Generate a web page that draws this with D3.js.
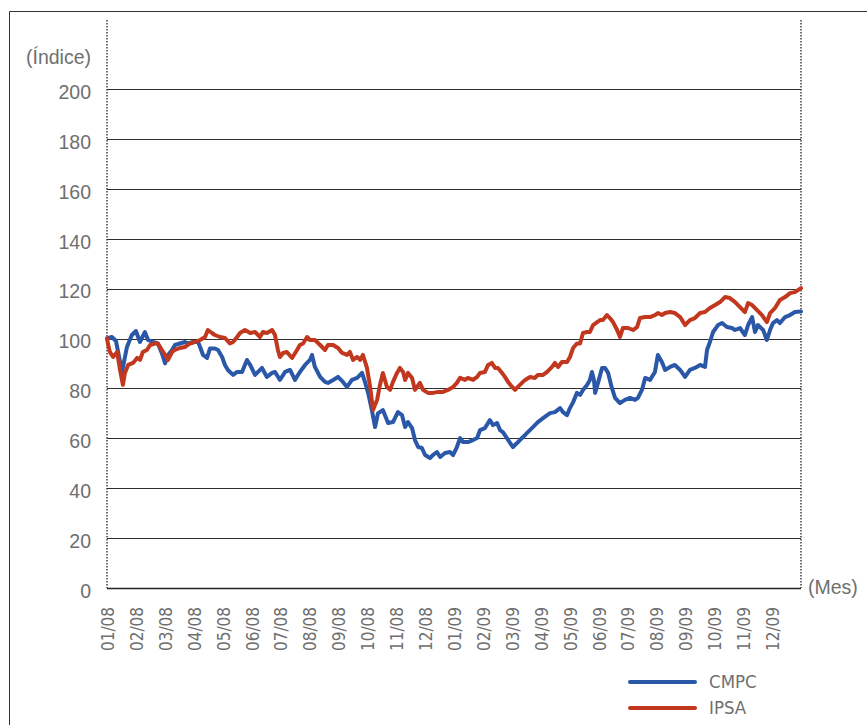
<!DOCTYPE html>
<html>
<head>
<meta charset="utf-8">
<script src="https://cdn.jsdelivr.net/npm/d3@7"></script>
<style>
  body { margin: 0; background: #fff; }
  svg { display: block; }
</style>
</head>
<body>
<div id="chart"></div>
<script>
// month tick labels (one per month, Jan 2008 .. Dec 2009)
const months = ["01/08","02/08","03/08","04/08","05/08","06/08","07/08","08/08","09/08","10/08","11/08","12/08",
                "01/09","02/09","03/09","04/09","05/09","06/09","07/09","08/09","09/09","10/09","11/09","12/09"];
const yTicks = [0, 20, 40, 60, 80, 100, 120, 140, 160, 180, 200];

// time in months since 01/08, index value (base 100)
const cmpcT = [0,0.17,0.31,0.52,0.69,0.86,1.00,1.14,1.31,1.42,1.59,1.76,1.90,2.01,2.11,2.25,2.35,2.52,2.70,2.80,2.97,
  3.15,3.22,3.32,3.46,3.56,3.73,3.84,3.98,4.08,4.18,4.36,4.50,4.67,4.84,4.95,5.12,5.36,5.53,5.71,5.81,5.98,6.16,6.33,
  6.50,6.67,6.85,7.02,7.09,7.19,7.37,7.54,7.64,7.82,7.99,8.16,8.30,8.47,8.65,8.82,8.92,9.03,9.16,9.27,9.37,9.54,9.72,
  9.89,10.06,10.20,10.31,10.41,10.55,10.65,10.76,10.89,11.00,11.17,11.27,11.41,11.52,11.69,11.86,11.97,12.10,12.21,
  12.31,12.48,12.66,12.80,12.90,13.07,13.24,13.35,13.49,13.59,13.69,13.83,13.94,14.04,14.18,14.28,14.46,14.52,14.73,
  14.90,15.08,15.32,15.49,15.67,15.77,15.91,16.01,16.12,16.25,16.36,16.46,16.60,16.70,16.77,16.84,16.88,16.98,17.12,
  17.22,17.33,17.46,17.57,17.74,17.91,18.09,18.26,18.36,18.50,18.61,18.78,18.95,19.05,19.19,19.30,19.47,19.64,19.82,
  19.99,20.16,20.33,20.51,20.68,20.75,20.85,20.96,21.13,21.27,21.44,21.61,21.72,21.89,22.06,22.17,22.31,22.41,22.51,
  22.69,22.82,22.93,23.03,23.17,23.27,23.45,23.62,23.79,24.00];
const cmpcV = [100,100.6,99,86.6,96.6,101.4,103,98.6,102.6,99.4,98.6,98,94,90,93.4,95.4,97.4,98,98.6,98,98.6,
  98.6,96.6,93.4,92.2,96,96,95.4,92.6,89.4,87.4,85.4,86.6,86.6,91.4,89.4,85.4,88.2,84.6,86.2,86.6,83.4,86.6,87.4,
  83.4,86.6,89.4,91.4,93.4,88.6,84.6,82.6,82.2,83.4,84.6,82.6,80.6,83.4,84.2,86.2,82.6,78.2,71.3,64.5,70,71.3,66.1,
  66.5,70.5,69.3,64.5,66.5,64.1,59.3,56.5,56.1,53.3,52.1,53.3,54.5,52.5,54.1,54.5,53.3,56.5,60.1,
  58.5,58.5,59.3,60.1,63.3,64.1,67.3,65.3,66.1,63.3,62.5,60.1,58.1,56.5,58.1,59.3,61.3,62.1,64.5,
  66.5,68.1,70.1,70.5,72.1,70.5,69.3,72.1,74.5,78.2,77.4,79.4,81.4,83.4,86.6,83.4,78.2,82.2,88.2,
  88.2,86.2,80.2,76.2,74.1,75.4,76.2,75.4,76.2,79.4,84.2,83.4,86.6,93.4,90.6,87.4,88.6,89.4,87.4,
  84.6,87.4,88.2,89.4,88.6,95.4,98.6,102.6,105.4,106.2,104.6,104.2,103.4,104.2,101.4,105.4,108.6,102.6,105.4,
  103.4,99.4,103.4,106.2,107.4,106.2,108.6,109.4,110.6,110.8];

const ipsaT = [0,0.03,0.10,0.21,0.35,0.45,0.55,0.62,0.73,0.90,1.04,1.14,1.24,1.38,1.49,1.66,1.76,1.90,2.01,2.11,2.25,
  2.35,2.52,2.70,2.87,3.04,3.22,3.39,3.49,3.63,3.73,3.91,4.08,4.25,4.36,4.50,4.60,4.77,4.95,5.12,5.29,5.39,5.53,5.71,
  5.81,5.91,5.98,6.09,6.22,6.40,6.57,6.67,6.78,6.92,7.02,7.19,7.37,7.54,7.64,7.82,7.99,8.13,8.30,8.40,8.51,8.65,8.75,
  8.85,8.99,9.10,9.20,9.34,9.44,9.54,9.68,9.79,9.89,10.03,10.13,10.24,10.31,10.41,10.55,10.65,10.82,10.93,11.10,
  11.27,11.45,11.62,11.79,11.97,12.10,12.21,12.38,12.48,12.66,12.80,12.90,13.07,13.18,13.31,13.42,13.52,13.66,13.76,
  13.87,14.01,14.11,14.21,14.35,14.46,14.63,14.80,14.90,15.08,15.22,15.39,15.49,15.60,15.73,15.91,16.01,16.12,16.25,
  16.36,16.46,16.60,16.70,16.81,16.95,17.05,17.15,17.29,17.39,17.50,17.64,17.74,17.84,18.02,18.19,18.33,18.43,18.61,
  18.78,18.95,19.05,19.19,19.30,19.47,19.64,19.82,19.99,20.16,20.33,20.51,20.68,20.85,21.03,21.20,21.37,21.54,21.72,
  21.89,22.06,22.17,22.31,22.48,22.65,22.82,22.93,23.10,23.27,23.45,23.62,23.79,24.00];
const ipsaV = [100,98,94.6,92.6,94.6,87.4,81.4,86.2,89.4,90.2,92.2,91.4,94.6,95.4,97.4,98,98,95.4,93.4,91.4,94.6,
  95.4,96.2,96.6,98,98.6,99.4,100.6,103.4,102.2,101.4,100.6,100.2,98,98.6,100.6,102.2,103.4,102.2,102.6,100.6,102.6,102.2,103.4,
  101.4,95.4,92.6,94.2,94.6,92.2,95.4,97.4,98,100.6,99.4,99.4,97.4,95.4,97.4,97.4,96.2,94.2,93.4,94.6,91.4,92.6,91.4,
  93.4,88.2,80.6,71.3,75.4,81.4,86.2,80.6,79.4,82.6,86.2,88.2,86.6,83.4,86.2,84.2,79.4,82.2,79.4,78.2,
  78.2,78.6,78.6,79.4,80.6,82.2,84.2,83.4,84.2,83.4,84.6,86.2,86.6,89.4,90.2,88.2,88.2,86.2,84.6,
  82.6,80.6,79.4,80.6,82.2,83.4,84.6,84.2,85.4,85.4,86.6,88.6,90.2,88.6,90.6,90.6,92.6,96.2,98,
  98,102.2,102.6,102.6,105.4,106.6,107.4,107.4,109.4,108.2,106.6,103.4,100.6,104.2,104.2,103.4,104.6,108.2,108.6,
  108.6,109.4,110.2,109.4,110.2,110.6,110.2,108.6,105.4,107.4,108.2,110.2,110.6,112.2,113.4,114.6,116.6,116.2,114.6,
  112.6,110.6,114.2,113.4,111.4,109.4,106.6,110.2,112.2,115.4,116.6,118.2,118.6,120.2];

const seriesNames = ["CMPC", "IPSA"];
const seriesColors = ["#2a57a8", "#c2381f"];

const width = 867, height = 725;
const margin = { top: 89, right: 66, bottom: 137, left: 107 };

const svg = d3.select("#chart").append("svg")
    .attr("width", width)
    .attr("height", height);

const x = d3.scaleLinear().domain([0, 24]).range([margin.left, width - margin.right]);
const y = d3.scaleLinear().domain([0, 200]).range([height - margin.bottom, margin.top]);

const regular = "'Liberation Sans', Arial, sans-serif";
const narrow = "'Liberation Sans Narrow', 'Arial Narrow', 'DejaVu Sans Condensed', sans-serif";
const textColor = "#6f6f6f";

// outer frame (left and top edges)
svg.append("path")
    .attr("d", `M9.5,${height}V11.5H${width}`)
    .attr("fill", "none")
    .attr("stroke", "#333")
    .attr("stroke-width", 1);

// horizontal grid lines
svg.append("g")
    .selectAll("line")
    .data(yTicks)
    .join("line")
    .attr("x1", x(0))
    .attr("x2", x(24))
    .attr("y1", d => Math.round(y(d)) + 0.5)
    .attr("y2", d => Math.round(y(d)) + 0.5)
    .attr("stroke", d => d === 0 ? "#222" : "#2e2e2e")
    .attr("stroke-width", d => d === 0 ? 1.5 : 1.1);

// dotted vertical boundaries
svg.append("g")
    .selectAll("line")
    .data([0, 24])
    .join("line")
    .attr("x1", d => x(d))
    .attr("x2", d => x(d))
    .attr("y1", 20)
    .attr("y2", y(0))
    .attr("stroke", "#222")
    .attr("stroke-width", 1.3)
    .attr("stroke-dasharray", "1.5,1.5");

// y axis labels
svg.append("g")
    .selectAll("text")
    .data(yTicks)
    .join("text")
    .attr("x", 91)
    .attr("y", d => y(d) + 3)
    .attr("dy", "0.35em")
    .attr("text-anchor", "end")
    .style("font-family", regular)
    .style("font-size", "19.5px")
    .style("fill", textColor)
    .text(d => d);

svg.append("text")
    .attr("x", 91)
    .attr("y", 64)
    .attr("text-anchor", "end")
    .style("font-family", regular)
    .style("font-size", "19.5px")
    .style("fill", textColor)
    .text("(Índice)");

svg.append("text")
    .attr("x", 808)
    .attr("y", 594)
    .style("font-family", regular)
    .style("font-size", "19.5px")
    .style("fill", textColor)
    .text("(Mes)");

// x axis month labels, rotated
svg.append("g")
    .selectAll("text")
    .data(months)
    .join("text")
    .attr("transform", (d, i) => `translate(${x(i) + 1},${y(0) + 19}) rotate(-90)`)
    .attr("dy", "0.35em")
    .attr("text-anchor", "end")
    .style("font-family", narrow)
    .style("font-size", "17px")
    .style("fill", textColor)
    .text(d => d);

// series lines
const line = d3.line()
    .x(d => x(d[0]))
    .y(d => y(d[1]));

const series = [d3.zip(cmpcT, cmpcV), d3.zip(ipsaT, ipsaV)];

svg.append("g")
    .selectAll("path")
    .data(series)
    .join("path")
    .attr("d", line)
    .attr("fill", "none")
    .attr("stroke", (d, i) => seriesColors[i])
    .attr("stroke-width", 4)
    .attr("stroke-linejoin", "round")
    .attr("stroke-linecap", "round");

// legend
const legend = svg.append("g")
    .selectAll("g")
    .data(seriesNames)
    .join("g")
    .attr("transform", (d, i) => `translate(630,${682 + i * 26})`);

legend.append("line")
    .attr("x1", 0)
    .attr("x2", 65)
    .attr("stroke", (d, i) => seriesColors[i])
    .attr("stroke-width", 4)
    .attr("stroke-linecap", "round");

legend.append("text")
    .attr("x", 79)
    .attr("dy", "0.35em")
    .style("font-family", narrow)
    .style("font-size", "18.5px")
    .style("fill", textColor)
    .text(d => d);
</script>
</body>
</html>
